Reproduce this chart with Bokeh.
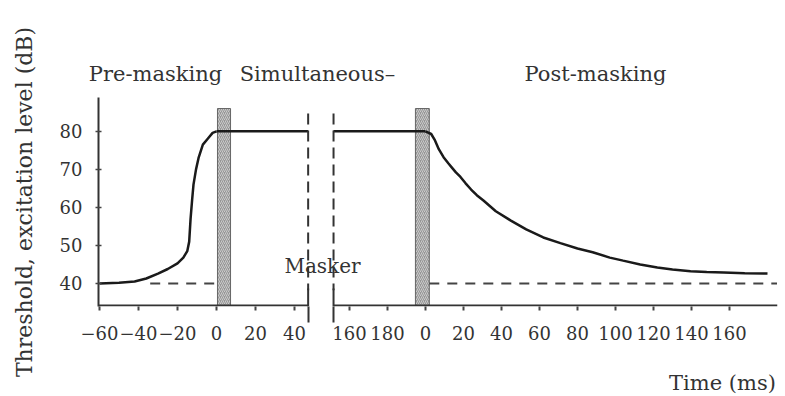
from bokeh.plotting import figure
from bokeh.models import Range1d, FixedTicker, LinearAxis, Label
from bokeh.embed import file_html
from bokeh.resources import INLINE

# ---------------- data ----------------
# pre-masking (time relative to masker onset, ms)
pre_t = [-60, -50, -42, -36, -30, -25, -20, -17, -15, -14, -13.3, -12.5, -11.8, -10.5, -9.2, -7, -4.6, -2, 0]
pre_db = [40, 40.2, 40.5, 41.3, 42.6, 43.8, 45.3, 46.8, 48.5, 51, 57, 62, 66, 70, 73, 76.5, 78, 79.6, 80]

# simultaneous masking level
sim_level = 80
seg1_end = 47          # ms after onset where first axis segment stops
seg2_start = 151.6     # ms after onset where second axis segment starts
masker_dur = 200       # masker duration (ms)

# post-masking (time relative to masker offset, ms)
post_t = [0, 3, 5, 7, 9.5, 12, 14, 16, 18.4, 21, 24, 27, 30.5, 37, 44.7, 53, 62, 71, 80, 88, 97, 104, 113, 122, 130, 139.5, 148, 157, 168, 180]
post_db = [80, 79.3, 77.6, 75.3, 73.2, 71.6, 70.4, 69.2, 68, 66.4, 64.7, 63.2, 61.8, 59, 56.6, 54.2, 52.1, 50.6, 49.2, 48.2, 46.8, 46, 45, 44.2, 43.7, 43.2, 43, 42.9, 42.7, 42.6]

quiet_threshold = 40
pre_quiet_start = -34
post_quiet_start = 2
post_end = 185

onset_bar = (0.5, 7.2)       # ms around onset
offset_bar = (-5.3, 2.0)     # ms around offset
bar_top = 86

pre_ticks = [-60, -40, -20, 0, 20, 40]
sim_ticks = [160, 180]
post_ticks = [0, 20, 40, 60, 80, 100, 120, 140, 160]
y_ticks = [40, 50, 60, 70, 80]

section_titles = ["Pre-masking", "Simultaneous\u2013", "Post-masking"]
x_title = "Time (ms)"
y_title = "Threshold, excitation level (dB)"
masker_text = "Masker"

# ---------------- broken-axis mapping ----------------
S1_OFF, S1_K = 118.0, 1.95
S3_OFF, S3_K = 327.0, 1.9


def u1(t):
    return round(S1_OFF + S1_K * t, 3)


def u2(m):
    return round(S3_OFF + S3_K * (m - masker_dur), 3)


def u3(tp):
    return round(S3_OFF + S3_K * tp, 3)


AX_Y = 34.2          # level where the time axis line is drawn
Y0, Y1 = 33.94, 88.9
FONT = "DejaVu Serif"
INK = "#1a1a1a"
TXT = "#333333"
AXC = "#333333"

p = figure(frame_width=679, frame_height=209, output_backend="svg", toolbar_location=None,
           x_range=Range1d(0, 679), y_range=Range1d(Y0, Y1),
           min_border_left=98, min_border_right=6, min_border_top=97, min_border_bottom=88)
p.outline_line_color = None
p.xgrid.visible = False
p.ygrid.visible = False
p.background_fill_color = "white"
p.border_fill_color = "white"

# hatched masker edges
for (a, b), f in ((onset_bar, u1), (offset_bar, u3)):
    p.quad(left=[f(a)], right=[f(b)], bottom=[AX_Y], top=[bar_top],
           fill_color="#969696", line_color="#666666", line_width=1,
           hatch_pattern="/", hatch_color="white", hatch_alpha=0.5,
           hatch_scale=4, hatch_weight=1)

# quiet threshold dashed lines
p.line([u1(pre_quiet_start), u1(0)], [quiet_threshold] * 2, line_color="#444444",
       line_width=2, line_dash="10 8")
p.line([u3(post_quiet_start), u3(post_end)], [quiet_threshold] * 2, line_color="#444444",
       line_width=2, line_dash="10 8")

# curves
p.line([u1(t) for t in pre_t], pre_db, line_color=INK, line_width=2.5)
p.line([u1(0), u1(seg1_end)], [sim_level] * 2, line_color=INK, line_width=2.5)
p.line([u2(seg2_start), u2(masker_dur)], [sim_level] * 2, line_color=INK, line_width=2.5)
p.line([u3(t) for t in post_t], post_db, line_color=INK, line_width=2.5)

# broken time-axis line
p.line([0, u1(seg1_end)], [AX_Y] * 2, line_color=AXC, line_width=2)
p.line([u2(seg2_start), 679], [AX_Y] * 2, line_color=AXC, line_width=2)

# axis break marks (upper dashed part)
breaks = [u1(seg1_end), u2(seg2_start)]
for xb in breaks:
    p.line([xb, xb], [bar_top - 1.3, AX_Y + 4], line_color=AXC, line_width=2, line_dash="11 6")
    p.line([xb, xb], [AX_Y + 4.5, Y0], line_color=AXC, line_width=2)

# time axis (minor ticks carry the lower part of the break marks)
ticks = [u1(t) for t in pre_ticks] + [u2(m) for m in sim_ticks] + [u3(t) for t in post_ticks]
labels = [("\u2212%d" % -t if t < 0 else str(t)) for t in pre_ticks] + [str(m) for m in sim_ticks] + [str(t) for t in post_ticks]
xa = p.xaxis[0]
xa.ticker = FixedTicker(ticks=ticks, minor_ticks=breaks)
xa.major_label_overrides = {k: v for k, v in zip(ticks, labels)}
xa.axis_line_color = None
xa.major_tick_in = 0
xa.major_tick_out = 4
xa.major_tick_line_width = 2
xa.major_tick_line_color = "#444444"
xa.minor_tick_in = 0
xa.minor_tick_out = 16
xa.minor_tick_line_width = 2
xa.minor_tick_line_color = AXC
xa.major_label_standoff = 3
xa.major_label_text_font = FONT
xa.major_label_text_font_size = "18px"
xa.major_label_text_color = TXT

# value axis
ya = p.yaxis[0]
ya.ticker = FixedTicker(ticks=y_ticks)
ya.minor_tick_line_color = None
ya.axis_line_color = AXC
ya.axis_line_width = 2
ya.major_tick_in = 3
ya.major_tick_out = 3
ya.major_tick_line_width = 1.5
ya.major_tick_line_color = "#444444"
ya.major_label_standoff = 13
ya.major_label_text_font = FONT
ya.major_label_text_font_size = "18px"
ya.major_label_text_color = TXT
ya.axis_label = y_title
ya.axis_label_standoff = 20
ya.axis_label_text_font = FONT
ya.axis_label_text_font_size = "22px"
ya.axis_label_text_font_style = "normal"
ya.axis_label_text_color = TXT


def text_axis(loc, positions, texts, standoff):
    ax = LinearAxis(ticker=FixedTicker(ticks=positions),
                    major_label_overrides={k: v for k, v in zip(positions, texts)},
                    axis_line_color=None, major_tick_line_color=None, minor_tick_line_color=None,
                    major_label_standoff=standoff, major_label_text_font=FONT,
                    major_label_text_font_size="21px", major_label_text_color=TXT)
    p.add_layout(ax, loc)


# section titles above, time-axis title below
text_axis("above", [57, 219, 497], section_titles, 6)
text_axis("below", [624], [x_title], 22)

p.add_layout(Label(x=224, y=44.7, text=masker_text, text_align="center", text_baseline="middle",
                   text_font=FONT, text_font_size="20px", text_color=TXT))

open("out.html", "w").write(file_html(p, INLINE))
